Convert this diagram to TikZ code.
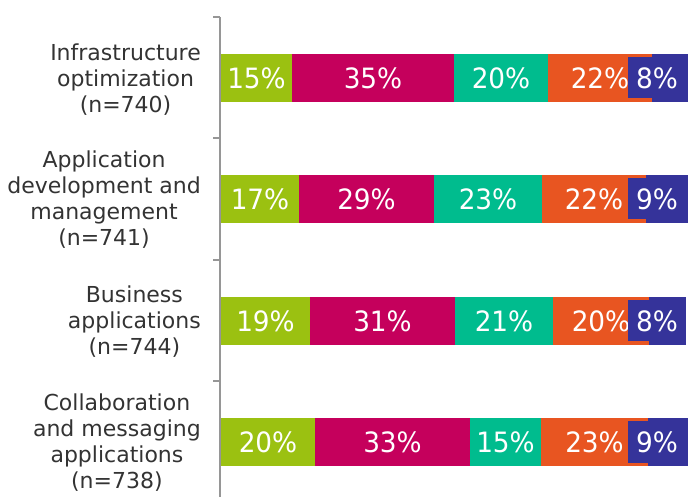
\documentclass[tikz,border=0pt]{standalone}
\usepackage{fontspec}
\setmainfont{DejaVu Sans}
\newfontfamily\pctfont[FakeStretch=0.94]{DejaVu Sans}
\usetikzlibrary{positioning}
\definecolor{segGreen}{RGB}{155,193,17}
\definecolor{segMagenta}{RGB}{197,0,92}
\definecolor{segTeal}{RGB}{0,188,142}
\definecolor{segOrange}{RGB}{232,85,33}
\definecolor{segPurple}{RGB}{53,51,154}
\definecolor{axisGray}{RGB}{150,150,150}
\definecolor{labelGray}{RGB}{51,51,51}
\tikzset{
    catLabel/.style={anchor=east, align=center, text=labelGray, inner sep=0pt,
        font=\fontsize{22}{26}\selectfont},
    pctLabel/.style={text=white, fill=#1, inner xsep=4pt, inner ysep=0pt,
        minimum height=41pt, font=\pctfont\fontsize{28}{30}\selectfont},
    axisLine/.style={axisGray, line width=2pt},
}

\begin{document}
\begin{tikzpicture}[x=1pt, y=-1pt]
	\useasboundingbox (0,0) rectangle (689,497);
	% bars: row centre / orange end / bar end / last value / first four segments
	\foreach \yc/\xo/\xe/\last/\segs [count=\r] in {
		78/652/688/8/{221/292/15/segGreen,292/454/35/segMagenta,454/548/20/segTeal,548/652/22/segOrange},
		199/646/688/9/{221/299/17/segGreen,299/434/29/segMagenta,434/542/23/segTeal,542/646/22/segOrange},
		321/649/686/8/{221/310/19/segGreen,310/455/31/segMagenta,455/553/21/segTeal,553/649/20/segOrange},
		442/648/688/9/{221/315/20/segGreen,315/470/33/segMagenta,470/541/15/segTeal,541/648/23/segOrange}}{
		\foreach \xa/\xb/\pct/\col in \segs
			\fill[\col] (\xa,\yc-24) rectangle (\xb,\yc+24);
		\fill[segPurple] (\xo,\yc-24) rectangle (\xe,\yc+24);
		\foreach \xa/\xb/\pct/\col [count=\i] in \segs
			\node[pctLabel=\col] (p\r-\i) at ({(\xa+\xb)/2},\yc) {\pct\%};
		\node[pctLabel=segPurple, minimum width=58pt] (p\r-5) at (657,\yc) {\last\%};
	}
	% category axis
	\coordinate (axisTop) at (220,17);
	\coordinate (axisBottom) at (220,497);
	\draw[axisLine] (axisTop) -- (axisBottom);
	\foreach \ty in {17,138,260,381}
		\draw[axisLine] (213,\ty) -- (220,\ty);
	\node[catLabel] (cat1) at (201,80) {Infrastructure\\optimization\\(n=740)};
	\node[catLabel] (cat2) at (201,200) {Application\\development and\\management\\(n=741)};
	\node[catLabel] (cat3) at (201,322) {Business\\applications\\(n=744)};
	\node[catLabel] (cat4) at (201,443) {Collaboration\\and messaging\\applications\\(n=738)};
\end{tikzpicture}
\end{document}
